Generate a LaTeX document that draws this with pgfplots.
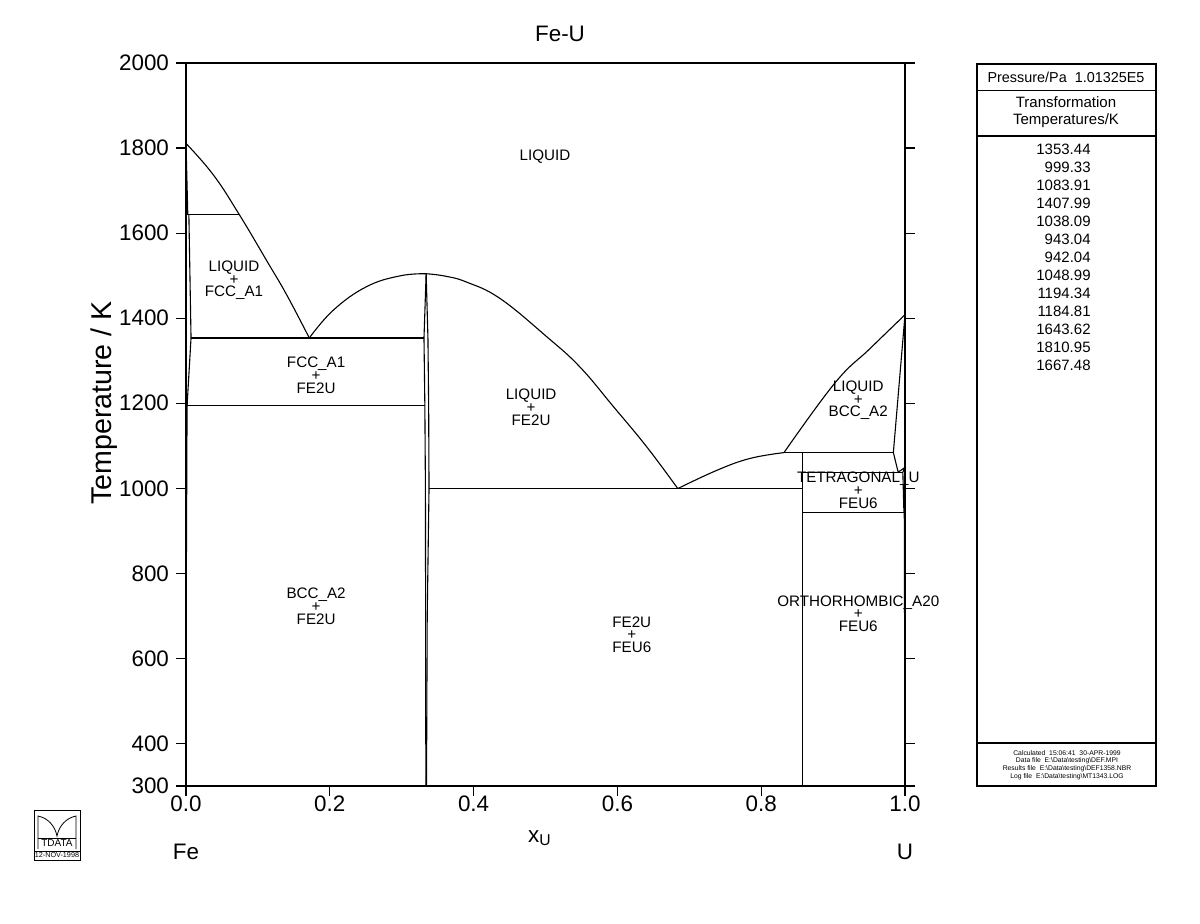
\documentclass[border=0pt]{standalone}
\usepackage{fontspec}
\setmainfont{Liberation Sans}
\usepackage{pgfplots}
\pgfplotsset{compat=1.18}

\tikzset{
  phase/.style={font=\fontsize{7.6pt}{6.4pt}\selectfont, align=center, inner sep=0pt},
  bnd/.style={black, line width=0.55pt, no markers},
}

\begin{document}
\begin{tikzpicture}
\path[use as bounding box] (0,0) rectangle (600pt,461.5pt);
\begin{axis}[
  at={(93pt,68.5pt)}, anchor=south west,
  width=359.5pt, height=361.5pt, scale only axis,
  xmin=0, xmax=1, ymin=300, ymax=2000,
  clip mode=individual,
  xtick={0,0.2,0.4,0.6,0.8,1},
  ytick={300,400,600,800,1000,1200,1400,1600,1800,2000},
  xticklabel style={yshift=3.5pt, /pgf/number format/.cd, fixed, fixed zerofill, precision=1},
  yticklabel style={/pgf/number format/.cd, fixed, 1000 sep={}},
  /pgf/number format/assume math mode=true,
  tick align=outside, xtick pos=bottom, ytick pos=both, yticklabel pos=left,
  major tick length=5pt,
  tick style={black, line width=0.6pt},
  axis line style={line width=0.8pt},
  ticklabel style={font=\fontsize{11.2pt}{13pt}\selectfont},
]
% Fe-rich liquidus
\addplot[bnd, smooth, tension=0.7] coordinates {(0,1810.95) (0.038,1737) (0.0741,1643.62) (0.113,1533) (0.140,1455) (0.1715,1353.44)};
% liquidus up to FE2U maximum
\addplot[bnd, smooth, tension=0.7] coordinates {(0.1715,1353.44) (0.205,1419) (0.251,1474) (0.2976,1499.5) (0.334,1504.5)};
% liquidus down to FE2U/FEU6 eutectic
\addplot[bnd, smooth, tension=0.7] coordinates {(0.334,1504.5) (0.360,1499) (0.390,1485) (0.437,1446) (0.502,1356) (0.548,1285) (0.594,1193) (0.641,1097) (0.684,999.33)};
% liquidus up to FEU6 peritectic
\addplot[bnd, smooth, tension=0.7] coordinates {(0.684,999.33) (0.738,1042) (0.784,1070) (0.8317,1083.91)};
% U-rich liquidus
\addplot[bnd, smooth, tension=0.7] coordinates {(0.8317,1083.91) (0.9027,1248) (0.951,1328) (1,1407.99)};
% FE2U homogeneity range
\addplot[bnd] coordinates {(0.3340,1504.5) (0.3310,1353.44) (0.3322,1194.34) (0.3330,999.33) (0.3336,300)};
\addplot[bnd] coordinates {(0.3340,1504.5) (0.3365,1353.44) (0.3375,1194.34) (0.3380,999.33) (0.3355,700) (0.3345,300)};
% invariant lines
\addplot[bnd] coordinates {(0.002,1643.62) (0.0741,1643.62)};
\addplot[bnd] coordinates {(0.007,1353.44) (0.3310,1353.44)};
\addplot[bnd] coordinates {(0.0015,1194.34) (0.3322,1194.34)};
\addplot[bnd] coordinates {(0.3380,999.33) (0.857,999.33)};
\addplot[bnd] coordinates {(0.8317,1083.91) (0.9838,1083.91)};
\addplot[bnd] coordinates {(0.857,1038.09) (0.997,1038.09)};
\addplot[bnd] coordinates {(0.857,943.04) (0.9985,943.04)};
% FEU6
\addplot[bnd] coordinates {(0.857,300) (0.857,1083.91)};
% Fe side solid solutions
\addplot[bnd] coordinates {(0,1810.95) (0.0025,1643.62)};
\addplot[bnd] coordinates {(0,1667.48) (0.002,1643.62)};
\addplot[bnd] coordinates {(0.004,1643.62) (0.007,1353.44) (0.0015,1194.34)};
\addplot[bnd] coordinates {(0,1184.81) (0.0015,1194.34) (0.0005,800) (0,300)};
% U side solid solutions
\addplot[bnd] coordinates {(1,1407.99) (0.9838,1083.91) (0.9905,1038.09) (1,1048.99) (0.997,1038.09) (0.9985,943.04)};
\addplot[bnd] coordinates {(0.999,942.04) (1,300)};

% phase labels
\node[phase] at (axis cs:0.4993,1779) {LIQUID};
\node[phase] at (axis cs:0.0668,1489) {LIQUID\\+\\FCC\_A1};
\node[phase] at (axis cs:0.181,1266) {FCC\_A1\\+\\FE2U};
\node[phase] at (axis cs:0.480,1190) {LIQUID\\+\\FE2U};
\node[phase] at (axis cs:0.181,722) {BCC\_A2\\+\\FE2U};
\node[phase] at (axis cs:0.620,656) {FE2U\\+\\FEU6};
\node[phase] at (axis cs:0.935,1207) {LIQUID\\+\\BCC\_A2};
\node[phase] at (axis cs:0.935,995) {TETRAGONAL\_U\\+\\FEU6};
\node[phase] at (axis cs:0.935,705) {ORTHORHOMBIC\_A20\\+\\FEU6};
\end{axis}

% everything outside the axis, in pixel units of the 1200x923 image
\begin{scope}[x=0.5pt, y=-0.5pt, yshift=461.5pt]
\node[font=\fontsize{11.2pt}{13pt}\selectfont] at (560,34) {Fe-U};
\node[font=\fontsize{14.3pt}{16pt}\selectfont, rotate=90] at (104,403) {Temperature / K};
\node[font=\fontsize{11.2pt}{13pt}\selectfont] at (540,838) {x\textsubscript{U}};
\node[font=\fontsize{11.2pt}{13pt}\selectfont] at (186,852) {Fe};
\node[font=\fontsize{11.2pt}{13pt}\selectfont] at (905,852) {U};

% information panel
\draw[line width=0.6pt] (977,64) rectangle (1156,786);
\draw[line width=0.6pt] (977,90.7) -- (1156,90.7);
\draw[line width=0.6pt] (977,136) -- (1156,136);
\draw[line width=0.6pt] (977,743) -- (1156,743);
\node[font=\fontsize{7.2pt}{9pt}\selectfont] at (1066,77) {Pressure/Pa\ \ 1.01325E5};
\node[font=\fontsize{7.5pt}{8.6pt}\selectfont, align=center] at (1066,112) {Transformation\\Temperatures/K};
\foreach \v [count=\i from 0] in {1353.44,999.33,1083.91,1407.99,1038.09,943.04,942.04,1048.99,1194.34,1184.81,1643.62,1810.95,1667.48}
  \node[font=\fontsize{7.5pt}{9pt}\selectfont, anchor=east, inner sep=0pt] at (1091,149+18*\i) {\v};
\node[font=\fontsize{3.4pt}{3.1pt}\selectfont, align=center] at (1067,765.5)
  {Calculated\ \ 15:06:41\ \ 30-APR-1999\\
   Data file\ \ E:\textbackslash Data\textbackslash testing\textbackslash DEF.MPI\\
   Results file\ \ E:\textbackslash Data\textbackslash testing\textbackslash DEF1358.NBR\\
   Log file\ \ E:\textbackslash Data\textbackslash testing\textbackslash MT1343.LOG};

% logo
\draw[line width=0.4pt] (34,810) rectangle (80,851);
\draw[line width=0.4pt] (34,851) rectangle (80,860);
\draw[line width=0.4pt] (38,849) -- (38,816) .. controls (48,818) and (55,826) .. (57,836)
  .. controls (59,826) and (66,818) .. (76,816) -- (76,849);
\draw[line width=0.4pt] (38,838) -- (76,838);
\node[font=\fontsize{5pt}{6pt}\selectfont, inner sep=0pt] at (57,843.5) {TDATA};
\node[font=\fontsize{3.6pt}{4pt}\selectfont, inner sep=0pt] at (57,855.5) {12-NOV-1998};
\end{scope}
\end{tikzpicture}
\end{document}
